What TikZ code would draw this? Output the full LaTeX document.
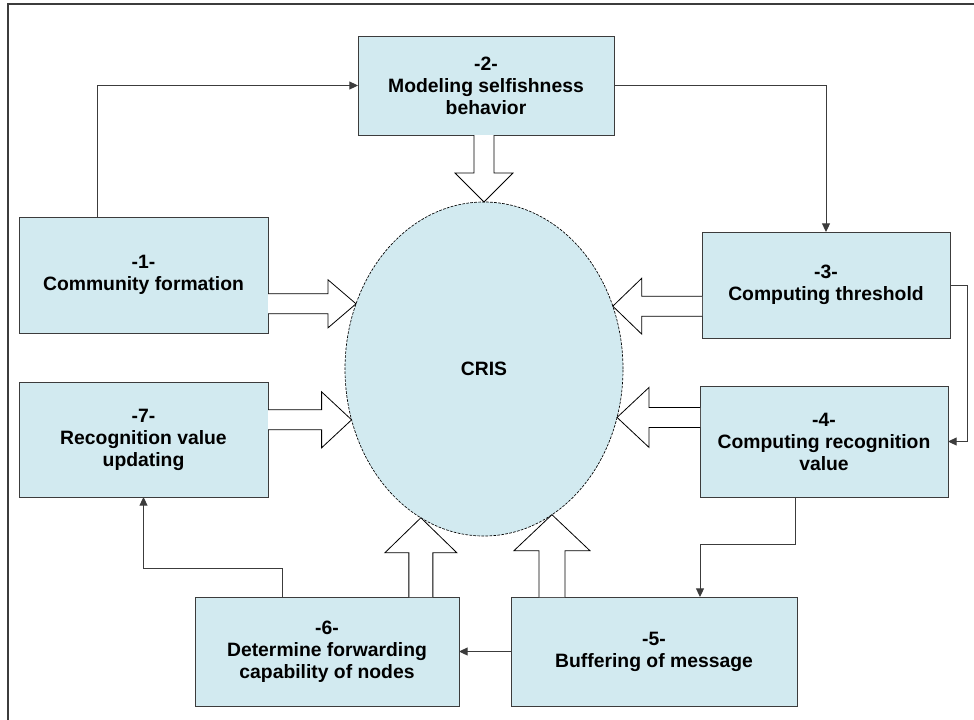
\documentclass[tikz,border=0pt]{standalone}
\usepackage{fontspec}
\setmainfont{Liberation Sans}
\usetikzlibrary{calc,arrows.meta,shapes.geometric}

\definecolor{boxfill}{RGB}{210,234,240}
\definecolor{edgegray}{RGB}{60,60,60}

\tikzset{
  stage/.style={draw=edgegray, line width=0.75pt, fill=boxfill, align=center,
    font=\bfseries\fontsize{14.5}{16.5}\selectfont, inner sep=2pt, outer sep=0pt},
  hub/.style={ellipse, draw=black, dash pattern=on 2pt off 1pt, line width=0.5pt,
    fill=boxfill, minimum width=208.5pt, minimum height=250.5pt, inner sep=0pt,
    outer sep=0pt, font=\bfseries\fontsize{14.5}{16.5}\selectfont},
  flow/.style={draw=edgegray, line width=0.75pt, -{Triangle[length=6.5pt,width=6pt]}},
  barrow/.style={draw=black, line width=0.6pt, fill=white, line join=miter},
  frameline/.style={draw=edgegray, line width=1pt},
}

% hollow block arrow: start, tip, shaft half width, head half width, head length
\newcommand{\blockarrow}[5]{%
  \coordinate (ba-s) at (#1);
  \coordinate (ba-t) at (#2);
  \coordinate (ba-b) at ($(ba-t)!#5!(ba-s)$);
  \path[barrow] ($(ba-s)!#3!90:(ba-t)$) -- ($(ba-b)!#3!90:(ba-t)$)
    -- ($(ba-b)!#4!90:(ba-t)$) -- (ba-t) -- ($(ba-b)!#4!-90:(ba-t)$)
    -- ($(ba-b)!#3!-90:(ba-t)$) -- ($(ba-s)!#3!-90:(ba-t)$);
}

\begin{document}
\begin{tikzpicture}[x=0.75pt, y=-0.75pt]
\useasboundingbox (0,0) rectangle (974,719);
\clip (0,0) rectangle (974,719);

% outer frame
\draw[frameline] (8,4) rectangle (1000,760);

% central process
\node[hub] (cris) at (484,369) {CRIS};

% stages
\node[stage, minimum width=186.75pt, minimum height=87pt]    (b1) at (143.5,275)   {-1-\\Community formation};
\node[stage, minimum width=192pt,    minimum height=74.25pt] (b2) at (486,85.5)   {-2-\\Modeling selfishness\\behavior};
\node[stage, minimum width=186pt,    minimum height=79.5pt]  (b3) at (826,285)     {-3-\\Computing threshold};
\node[stage, minimum width=186pt,    minimum height=83.25pt] (b4) at (824,441.5)   {-4-\\Computing recognition\\value};
\node[stage, minimum width=214.5pt,  minimum height=81.75pt] (b5) at (654,651.5)   {-5-\\Buffering of message};
\node[stage, minimum width=198pt,    minimum height=81.75pt] (b6) at (327,651.5)   {-6-\\Determine forwarding\\capability of nodes};
\node[stage, minimum width=186.75pt, minimum height=86.25pt] (b7) at (143.5,439.5) {-7-\\Recognition value\\updating};

% sequence connectors
\draw[flow] ($(b1.north west)+(78,0)$) |- (b2.west);
\draw[flow] (b2.east) -| (b3.north);
\draw[flow] (b3.east) -- ++(17,0) |- (b4.east);
\draw[flow] ($(b4.south)+(-29,0)$) -- ++(0,47) -| ($(b5.north)+(46,0)$);
\draw[flow] (b5.west) -- (b6.east);
\draw[flow] ($(b6.north)+(-45,0)$) -- ++(0,-29) -| (b7.south);

% contributions into CRIS
\blockarrow{b1.east |- cris.153}{cris.153}{7.5pt}{18pt}{21pt}
\blockarrow{b7.east |- cris.201}{cris.201}{7.5pt}{21pt}{22.5pt}
\blockarrow{b3.west |- cris.26}{cris.26}{7.5pt}{21pt}{21.75pt}
\blockarrow{b4.west |- cris.340}{cris.340}{7.5pt}{22.5pt}{24pt}
\blockarrow{cris.90 |- b2.south}{cris.90}{7.5pt}{21.75pt}{21.75pt}
\blockarrow{cris.247 |- b6.north}{cris.247}{9pt}{27pt}{26.25pt}
\blockarrow{cris.295 |- b5.north}{cris.295}{9.75pt}{28.5pt}{27pt}
\end{tikzpicture}
\end{document}
